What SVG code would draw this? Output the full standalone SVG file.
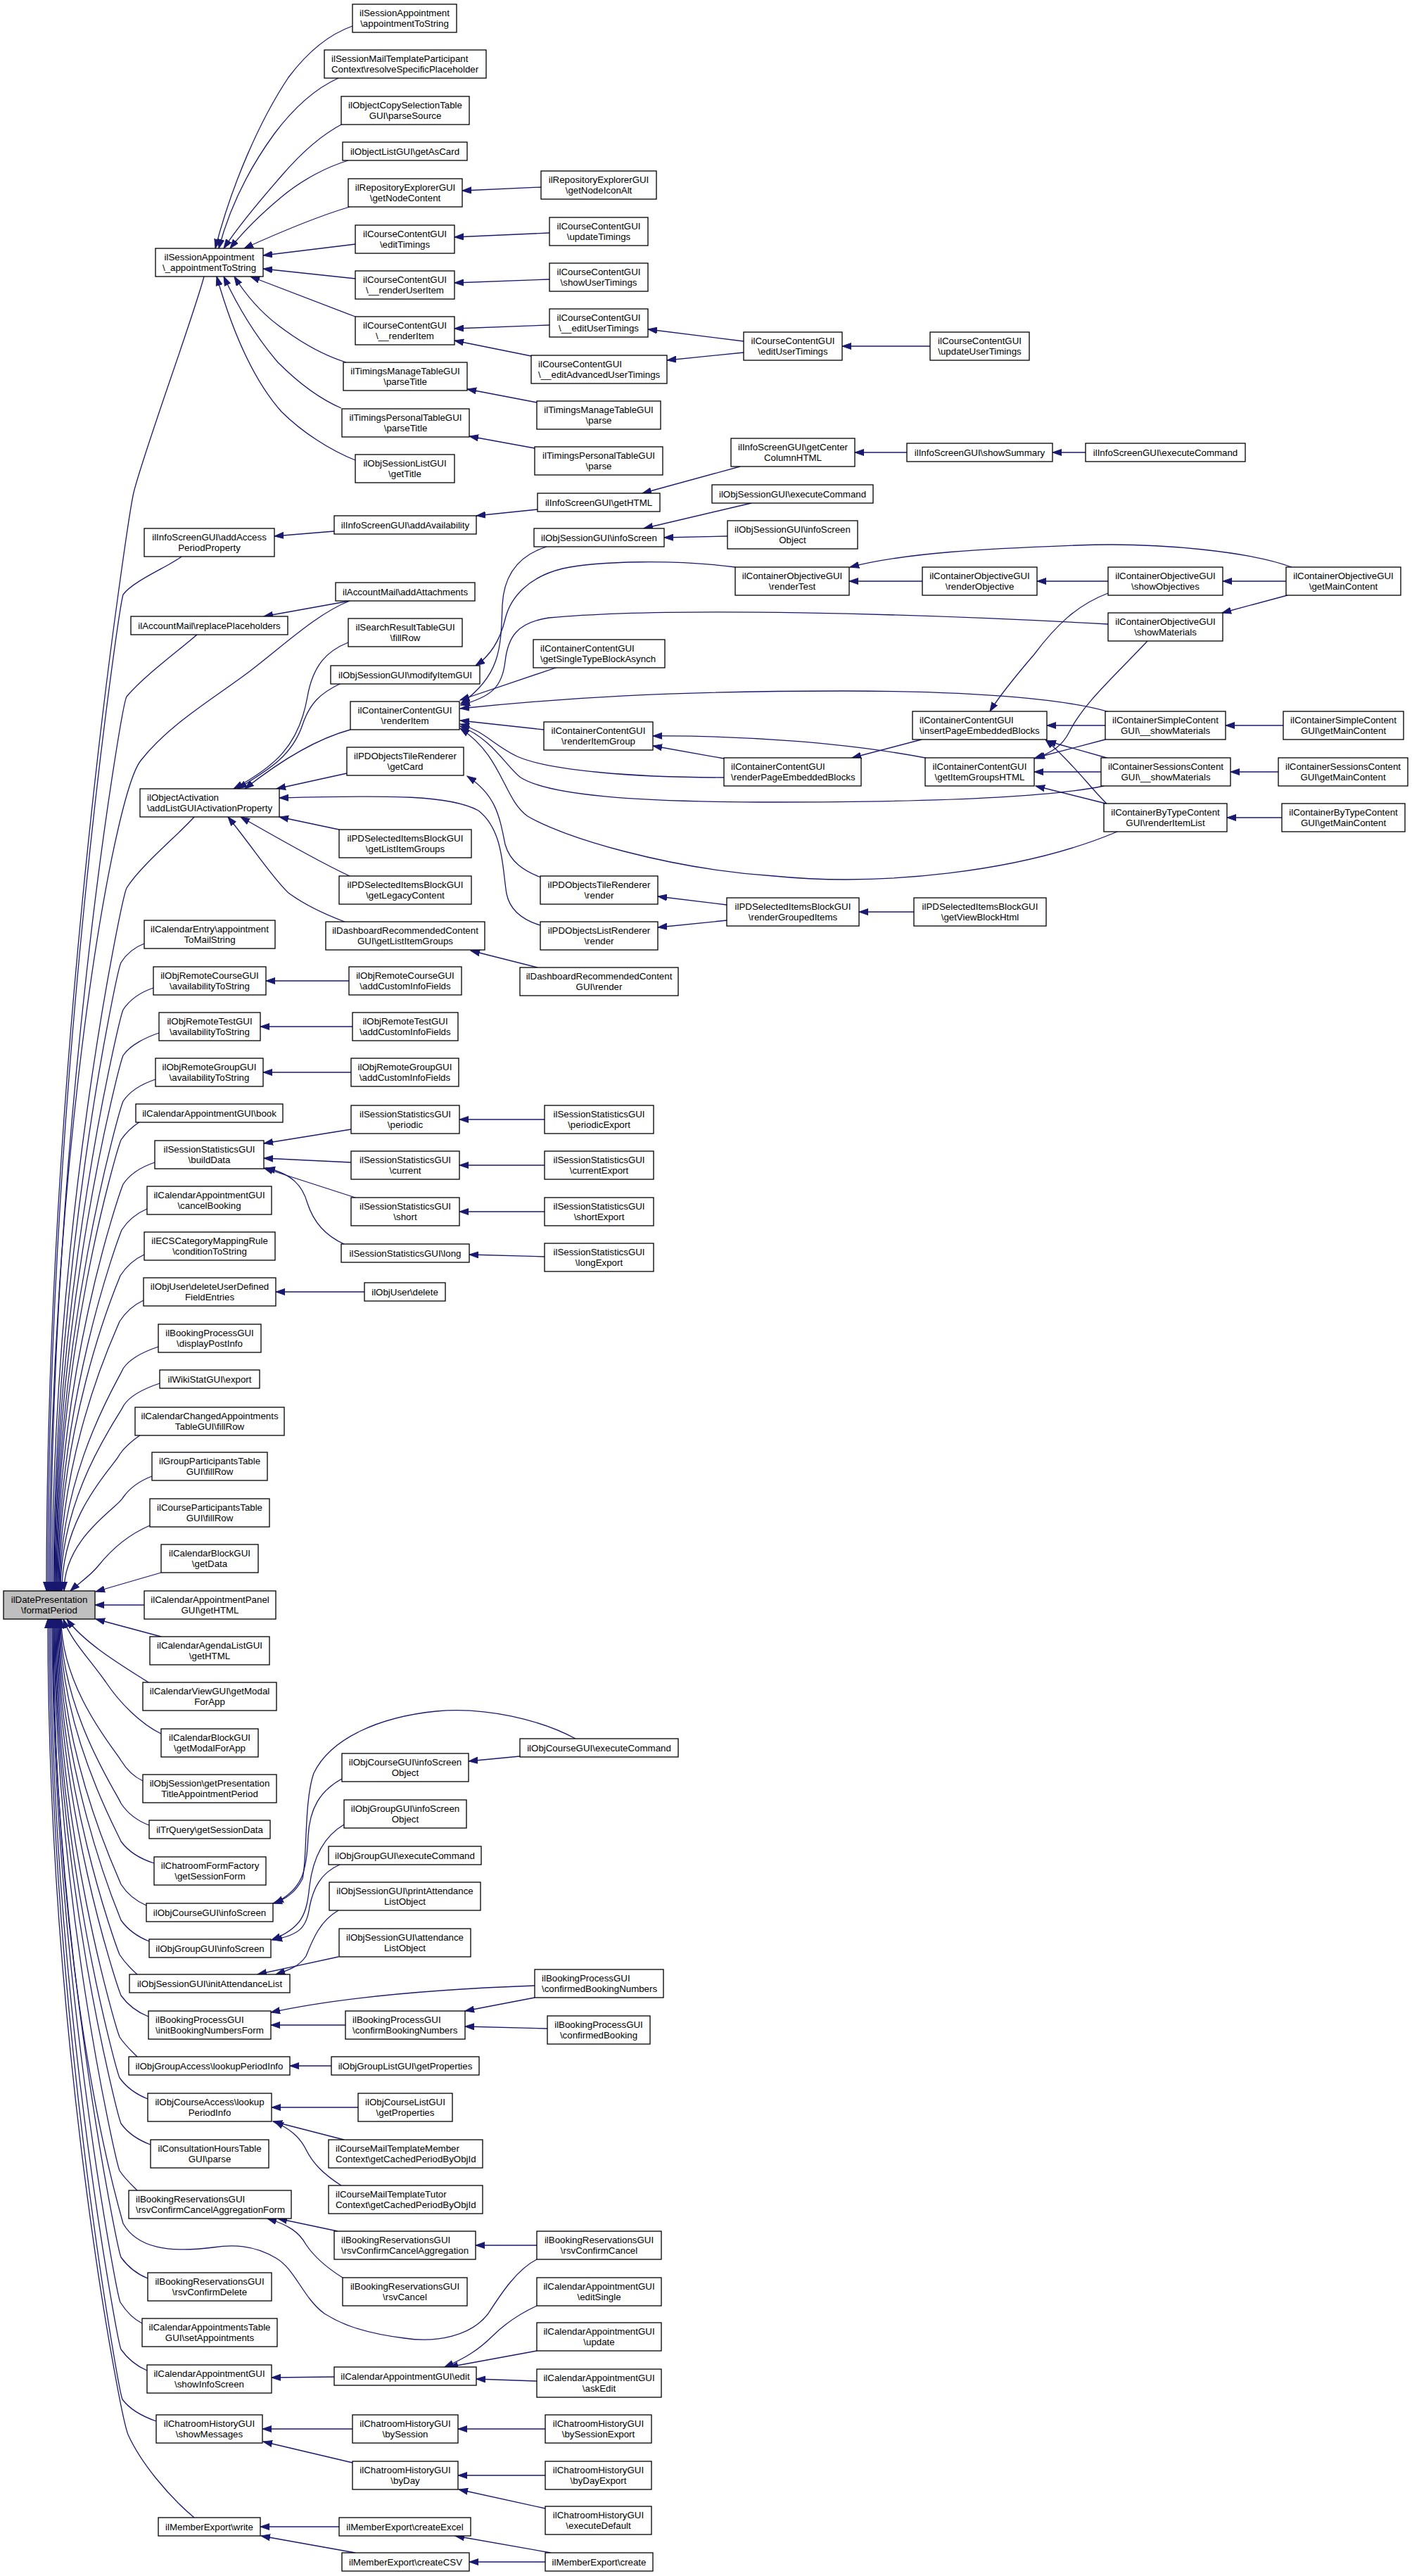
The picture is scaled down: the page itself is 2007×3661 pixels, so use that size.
<svg xmlns="http://www.w3.org/2000/svg" width="2007" height="3661" viewBox="0 0 2007 3661">
<style>
.node rect{fill:#fff;stroke:#000;stroke-width:1.3}
.root rect{fill:#bfbfbf}
text{font-family:"Liberation Sans",Arial,Helvetica,sans-serif;font-size:13.3px;fill:#000}
.c text{text-anchor:middle}
.l text{text-anchor:start}
#edges path{fill:none;stroke:#191970;stroke-width:1.3;marker-end:url(#arr)}
</style>
<defs>
<marker id="arr" markerUnits="userSpaceOnUse" markerWidth="14" markerHeight="10" viewBox="0 0 14 10" refX="13" refY="5" orient="auto">
<path d="M0,0.5 L13,5 L0,9.5 z" fill="#191970" stroke="#191970" stroke-width="1"/>
</marker>
</defs>
<rect x="0" y="0" width="2007" height="3661" fill="#fff"/>
<g id="edges">
<path d="M501,37 C470,48 440,70 410,110 C370,170 330,260 306,353"/>
<path d="M481,111 C450,125 420,150 390,190 C350,245 325,300 311,353"/>
<path d="M487,176 C460,190 430,215 400,250 C365,290 340,320 318,353"/>
<path d="M495,228 C465,237 430,255 400,280 C370,305 345,330 327,353"/>
<path d="M497,294 C460,305 420,320 347,353"/>
<path d="M505,347 L374,363"/>
<path d="M505,396 L374,382"/>
<path d="M505,450 C470,437 440,425 356,393"/>
<path d="M492,515 C460,505 425,485 395,462 C370,443 350,420 333,393"/>
<path d="M485,580 C450,565 420,540 395,515 C365,480 340,440 318,393"/>
<path d="M505,654 C470,640 430,615 400,585 C360,540 330,470 308,393"/>
<path d="M769,266 L657,271"/>
<path d="M781,331 L646,337"/>
<path d="M781,397 L646,402"/>
<path d="M781,462 L646,467"/>
<path d="M755,506 L646,484"/>
<path d="M763,572 L664,553"/>
<path d="M760,637 L667,620"/>
<path d="M1057,485 L921,468"/>
<path d="M1057,501 L948,512"/>
<path d="M1322,492 L1197,492"/>
<path d="M475,755 L390,762"/>
<path d="M764,724 L677,733"/>
<path d="M1052,663 L913,701"/>
<path d="M1289,643 L1215,643"/>
<path d="M1543,643 L1496,643"/>
<path d="M1068,715 L915,751"/>
<path d="M1034,762 L944,764"/>
<path d="M497,854 L375,876"/>
<path d="M495,913 C465,925 445,945 437,990 C425,1060 390,1090 332,1121"/>
<path d="M485,971 C455,985 440,1000 430,1030 C415,1075 380,1095 338,1121"/>
<path d="M498,1037 C450,1050 400,1080 348,1121"/>
<path d="M493,1099 L393,1121"/>
<path d="M482,1179 L397,1161"/>
<path d="M497,1245 C460,1228 410,1200 342,1161"/>
<path d="M490,1310 C450,1295 425,1280 410,1269 C385,1245 360,1205 324,1161"/>
<path d="M768,1315 C745,1308 725,1295 720,1270 C714,1235 716,1180 680,1152 C640,1130 560,1130 397,1134"/>
<path d="M777,777 C735,790 716,820 714,860 C712,920 712,960 655,1000"/>
<path d="M1045,806 C960,795 850,797 800,808 C750,820 725,850 718,880 C712,905 700,930 676,946"/>
<path d="M1575,887 C1300,872 950,862 780,878 C735,885 722,905 718,940 C714,975 700,990 655,1002"/>
<path d="M793,948 L654,995"/>
<path d="M1577,1012 C1520,995 1400,982 1200,982 C950,982 800,992 654,1007"/>
<path d="M773,1037 L654,1024"/>
<path d="M1029,1105 C900,1105 780,1095 735,1075 C700,1058 690,1040 654,1029"/>
<path d="M1569,1117 C1480,1135 1300,1140 1100,1140 C900,1140 780,1130 740,1105 C720,1090 700,1050 654,1032"/>
<path d="M1588,1182 C1450,1240 1250,1260 1100,1245 C950,1235 800,1190 750,1160 C715,1135 715,1075 654,1035"/>
<path d="M769,1247 C745,1238 725,1225 718,1200 C710,1160 705,1130 664,1103"/>
<path d="M1033,1286 L935,1274"/>
<path d="M1033,1308 L935,1318"/>
<path d="M1299,1296 L1221,1296"/>
<path d="M764,1375 L669,1351"/>
<path d="M1315,1077 C1200,1055 1050,1045 928,1046"/>
<path d="M1029,1078 L928,1060"/>
<path d="M1310,1051 L1211,1077"/>
<path d="M1575,843 C1530,860 1500,890 1470,930 C1440,965 1420,990 1407,1011"/>
<path d="M1571,1031 L1488,1031"/>
<path d="M1573,1077 L1488,1053"/>
<path d="M1573,1142 C1550,1120 1530,1090 1486,1051"/>
<path d="M1631,911 C1580,965 1540,1000 1520,1040 C1510,1060 1495,1070 1470,1078"/>
<path d="M1571,1051 L1472,1077"/>
<path d="M1565,1097 L1470,1097"/>
<path d="M1572,1142 L1472,1117"/>
<path d="M1311,826 L1207,826"/>
<path d="M1575,826 L1474,826"/>
<path d="M1828,826 L1738,826"/>
<path d="M1830,846 L1737,871"/>
<path d="M1836,806 C1780,785 1650,770 1530,775 C1400,780 1290,785 1208,806"/>
<path d="M1824,1031 L1742,1031"/>
<path d="M1817,1097 L1749,1097"/>
<path d="M1822,1162 L1744,1162"/>
<path d="M496,1394 L378,1394"/>
<path d="M501,1459 L370,1459"/>
<path d="M499,1524 L374,1524"/>
<path d="M499,1605 L375,1625"/>
<path d="M499,1652 L375,1646"/>
<path d="M505,1702 L375,1660"/>
<path d="M489,1768 C460,1755 445,1735 437,1710 C430,1685 415,1668 378,1660"/>
<path d="M774,1591 L653,1591"/>
<path d="M774,1656 L653,1656"/>
<path d="M774,1722 L653,1722"/>
<path d="M774,1786 L667,1783"/>
<path d="M518,1836 L392,1836"/>
<path d="M486,2528 C455,2545 440,2570 438,2610 C436,2660 430,2685 390,2705"/>
<path d="M818,2471 C770,2445 690,2425 620,2432 C540,2440 470,2470 446,2520 C432,2560 437,2640 430,2670 C420,2690 405,2700 388,2705"/>
<path d="M739,2496 L666,2503"/>
<path d="M489,2593 C460,2610 445,2640 440,2680 C436,2720 430,2740 386,2757"/>
<path d="M483,2650 C455,2662 445,2685 440,2710 C436,2740 425,2750 388,2757"/>
<path d="M481,2715 C455,2730 445,2755 435,2780 C425,2795 410,2800 392,2806"/>
<path d="M481,2781 L366,2806"/>
<path d="M760,2822 C650,2826 500,2835 385,2860"/>
<path d="M491,2878 L385,2878"/>
<path d="M760,2839 L661,2858"/>
<path d="M778,2883 L661,2880"/>
<path d="M471,2936 L412,2936"/>
<path d="M509,2995 L386,2995"/>
<path d="M489,3041 L388,3015"/>
<path d="M485,3106 C460,3090 445,3075 435,3055 C425,3035 410,3025 390,3015"/>
<path d="M480,3171 L395,3153"/>
<path d="M487,3237 C460,3220 445,3205 435,3190 C425,3172 410,3162 380,3153"/>
<path d="M763,3191 L676,3191"/>
<path d="M475,3378 L386,3379"/>
<path d="M763,3277 C735,3290 715,3305 700,3320 C680,3340 660,3352 632,3364"/>
<path d="M763,3341 L638,3364"/>
<path d="M763,3384 L677,3381"/>
<path d="M501,3452 L373,3452"/>
<path d="M501,3500 L374,3470"/>
<path d="M775,3452 L651,3452"/>
<path d="M775,3518 L651,3518"/>
<path d="M775,3565 L652,3538"/>
<path d="M482,3591 L370,3591"/>
<path d="M505,3628 L371,3604"/>
<path d="M783,3628 L647,3604"/>
<path d="M775,3641 L667,3641"/>
<path d="M290,393 C275,450 205,640 190,700 C183,730 66,1480 66,2261"/>
<path d="M258,791 C240,805 190,825 175,845 C168,870 68,1550 68,2261"/>
<path d="M497,854 C450,872 400,920 351,957 C300,995 240,1030 200,1081 C160,1132 70,1650 70,2261"/>
<path d="M281,901 C260,920 205,960 180,990 C172,1005 72,1600 72,2261"/>
<path d="M276,1161 C255,1185 200,1230 180,1262 C172,1280 74,1750 74,2261"/>
<path d="M205,1341 C192,1346 180,1355 172,1368 C166,1380 76,1800 76,2261"/>
<path d="M218,1404 C200,1410 185,1420 175,1435 C169,1450 77,1830 77,2261"/>
<path d="M226,1468 C208,1474 185,1485 175,1500 C169,1515 78,1860 78,2261"/>
<path d="M221,1534 C203,1540 185,1550 175,1565 C169,1580 79,1890 79,2261"/>
<path d="M199,1594 C190,1600 180,1608 172,1620 C166,1635 80,1920 80,2261"/>
<path d="M220,1652 C202,1658 185,1668 175,1683 C169,1698 81,1950 81,2261"/>
<path d="M209,1718 C195,1724 182,1734 173,1748 C167,1763 82,1990 82,2261"/>
<path d="M205,1783 C192,1789 180,1799 171,1813 C165,1828 83,2020 83,2261"/>
<path d="M204,1848 C191,1854 179,1864 170,1878 C164,1893 84,2060 84,2261"/>
<path d="M225,1914 C207,1920 185,1930 175,1945 C169,1960 85,2090 85,2261"/>
<path d="M227,1966 C209,1972 186,1982 176,1997 C170,2012 86,2120 86,2261"/>
<path d="M200,2039 C190,2046 178,2055 170,2067 C164,2082 88,2150 88,2261"/>
<path d="M216,2098 C200,2104 185,2114 175,2128 C168,2143 91,2185 91,2261"/>
<path d="M213,2168 C185,2180 160,2200 140,2225 C128,2240 112,2250 100,2261"/>
<path d="M229,2235 L136,2262"/>
<path d="M205,2281 L135,2281"/>
<path d="M229,2326 L136,2301"/>
<path d="M211,2391 C170,2365 120,2335 95,2301"/>
<path d="M229,2464 C200,2450 170,2420 150,2390 C125,2355 100,2330 90,2301"/>
<path d="M203,2531 C190,2525 180,2515 172,2502 C166,2490 87,2401 87,2301"/>
<path d="M212,2594 C196,2588 182,2578 172,2563 C166,2548 86,2432 86,2301"/>
<path d="M219,2648 C200,2642 183,2632 172,2617 C166,2602 85,2460 85,2301"/>
<path d="M208,2708 C194,2702 181,2692 172,2678 C166,2663 84,2490 84,2301"/>
<path d="M212,2759 C197,2753 182,2743 172,2729 C166,2714 83,2515 83,2301"/>
<path d="M195,2806 C186,2798 178,2790 170,2778 C164,2763 82,2540 82,2301"/>
<path d="M211,2866 C196,2860 182,2850 172,2836 C166,2821 81,2570 81,2301"/>
<path d="M195,2923 C187,2915 178,2907 170,2895 C164,2880 80,2600 80,2301"/>
<path d="M210,2983 C195,2977 180,2967 170,2953 C164,2938 79,2630 79,2301"/>
<path d="M214,3048 C198,3042 182,3032 172,3018 C166,3003 78,2660 78,2301"/>
<path d="M195,3113 C187,3105 178,3097 170,3085 C164,3070 77,2690 77,2301"/>
<path d="M763,3211 C735,3225 712,3260 694,3288 C670,3320 620,3330 575,3323 C510,3315 480,3300 461,3288 C430,3265 420,3225 392,3209 C360,3190 330,3190 303,3194 C240,3202 195,3195 175,3160 C130,3000 76,2700 76,2301"/>
<path d="M210,3238 C195,3232 182,3222 172,3208 C166,3193 75,2750 75,2301"/>
<path d="M202,3302 C190,3296 180,3286 171,3272 C165,3257 74,2780 74,2301"/>
<path d="M209,3369 C195,3363 182,3353 172,3339 C166,3324 72,2820 72,2301"/>
<path d="M222,3441 C205,3435 185,3425 174,3410 C168,3395 70,2850 70,2301"/>
<path d="M276,3578 C240,3548 200,3500 182,3460 C170,3430 68,2900 68,2301"/>
</g>
<g id="n-root" class="node root c"><rect x="5" y="2261" width="130" height="40"/><text x="70" y="2278.4">ilDatePresentation</text><text x="70" y="2293.1">\formatPeriod</text></g>
<g id="a1" class="node c"><rect x="221" y="353" width="153" height="40"/><text x="297.5" y="370.4">ilSessionAppointment</text><text x="297.5" y="385.1">\_appointmentToString</text></g>
<g id="a2" class="node c"><rect x="205" y="751" width="185" height="40"/><text x="297.5" y="768.4">ilInfoScreenGUI\addAccess</text><text x="297.5" y="783.1">PeriodProperty</text></g>
<g id="a3" class="node c"><rect x="186" y="876" width="223" height="26"/><text x="297.5" y="893.8">ilAccountMail\replacePlaceholders</text></g>
<g id="a4" class="node l"><rect x="199" y="1121" width="198" height="40"/><text x="209" y="1138.4">ilObjectActivation</text><text x="209" y="1153.1">\addListGUIActivationProperty</text></g>
<g id="a5" class="node c"><rect x="205" y="1308" width="186" height="40"/><text x="298" y="1325.4">ilCalendarEntry\appointment</text><text x="298" y="1340.1">ToMailString</text></g>
<g id="a6" class="node c"><rect x="218" y="1374" width="160" height="40"/><text x="298" y="1391.4">ilObjRemoteCourseGUI</text><text x="298" y="1406.1">\availabilityToString</text></g>
<g id="a7" class="node c"><rect x="226" y="1439" width="144" height="40"/><text x="298" y="1456.4">ilObjRemoteTestGUI</text><text x="298" y="1471.1">\availabilityToString</text></g>
<g id="a8" class="node c"><rect x="221" y="1504" width="153" height="40"/><text x="297.5" y="1521.4">ilObjRemoteGroupGUI</text><text x="297.5" y="1536.1">\availabilityToString</text></g>
<g id="a9" class="node c"><rect x="193" y="1569" width="209" height="26"/><text x="297.5" y="1586.8">ilCalendarAppointmentGUI\book</text></g>
<g id="a10" class="node c"><rect x="220" y="1621" width="155" height="40"/><text x="297.5" y="1638.4">ilSessionStatisticsGUI</text><text x="297.5" y="1653.1">\buildData</text></g>
<g id="a11" class="node c"><rect x="209" y="1686" width="177" height="40"/><text x="297.5" y="1703.4">ilCalendarAppointmentGUI</text><text x="297.5" y="1718.1">\cancelBooking</text></g>
<g id="a12" class="node c"><rect x="205" y="1751" width="186" height="40"/><text x="298" y="1768.4">ilECSCategoryMappingRule</text><text x="298" y="1783.1">\conditionToString</text></g>
<g id="a13" class="node c"><rect x="204" y="1816" width="188" height="40"/><text x="298" y="1833.4">ilObjUser\deleteUserDefined</text><text x="298" y="1848.1">FieldEntries</text></g>
<g id="a14" class="node c"><rect x="225" y="1882" width="146" height="40"/><text x="298" y="1899.4">ilBookingProcessGUI</text><text x="298" y="1914.1">\displayPostInfo</text></g>
<g id="a15" class="node c"><rect x="227" y="1947" width="142" height="26"/><text x="298" y="1964.8">ilWikiStatGUI\export</text></g>
<g id="a16" class="node c"><rect x="192" y="2000" width="212" height="40"/><text x="298" y="2017.4">ilCalendarChangedAppointments</text><text x="298" y="2032.1">TableGUI\fillRow</text></g>
<g id="a17" class="node c"><rect x="216" y="2064" width="164" height="40"/><text x="298" y="2081.4">ilGroupParticipantsTable</text><text x="298" y="2096.1">GUI\fillRow</text></g>
<g id="a18" class="node c"><rect x="213" y="2130" width="170" height="40"/><text x="298" y="2147.4">ilCourseParticipantsTable</text><text x="298" y="2162.1">GUI\fillRow</text></g>
<g id="a19" class="node c"><rect x="229" y="2195" width="138" height="40"/><text x="298" y="2212.4">ilCalendarBlockGUI</text><text x="298" y="2227.1">\getData</text></g>
<g id="a20" class="node c"><rect x="205" y="2261" width="187" height="40"/><text x="298.5" y="2278.4">ilCalendarAppointmentPanel</text><text x="298.5" y="2293.1">GUI\getHTML</text></g>
<g id="a21" class="node c"><rect x="213" y="2326" width="170" height="40"/><text x="298" y="2343.4">ilCalendarAgendaListGUI</text><text x="298" y="2358.1">\getHTML</text></g>
<g id="a22" class="node c"><rect x="203" y="2391" width="190" height="40"/><text x="298" y="2408.4">ilCalendarViewGUI\getModal</text><text x="298" y="2423.1">ForApp</text></g>
<g id="a23" class="node c"><rect x="229" y="2457" width="138" height="40"/><text x="298" y="2474.4">ilCalendarBlockGUI</text><text x="298" y="2489.1">\getModalForApp</text></g>
<g id="a24" class="node c"><rect x="203" y="2522" width="190" height="40"/><text x="298" y="2539.4">ilObjSession\getPresentation</text><text x="298" y="2554.1">TitleAppointmentPeriod</text></g>
<g id="a25" class="node c"><rect x="212" y="2587" width="172" height="26"/><text x="298" y="2604.8">ilTrQuery\getSessionData</text></g>
<g id="a26" class="node c"><rect x="219" y="2639" width="159" height="40"/><text x="298.5" y="2656.4">ilChatroomFormFactory</text><text x="298.5" y="2671.1">\getSessionForm</text></g>
<g id="a27" class="node c"><rect x="208" y="2705" width="180" height="26"/><text x="298" y="2722.8">ilObjCourseGUI\infoScreen</text></g>
<g id="a28" class="node c"><rect x="212" y="2756" width="173" height="26"/><text x="298.5" y="2773.8">ilObjGroupGUI\infoScreen</text></g>
<g id="a29" class="node c"><rect x="184" y="2806" width="228" height="26"/><text x="298" y="2823.8">ilObjSessionGUI\initAttendanceList</text></g>
<g id="a30" class="node l"><rect x="211" y="2858" width="174" height="40"/><text x="221" y="2875.4">ilBookingProcessGUI</text><text x="221" y="2890.1">\initBookingNumbersForm</text></g>
<g id="a31" class="node c"><rect x="183" y="2923" width="229" height="26"/><text x="297.5" y="2940.8">ilObjGroupAccess\lookupPeriodInfo</text></g>
<g id="a32" class="node c"><rect x="210" y="2975" width="176" height="40"/><text x="298" y="2992.4">ilObjCourseAccess\lookup</text><text x="298" y="3007.1">PeriodInfo</text></g>
<g id="a33" class="node c"><rect x="214" y="3041" width="168" height="40"/><text x="298" y="3058.4">ilConsultationHoursTable</text><text x="298" y="3073.1">GUI\parse</text></g>
<g id="a34" class="node l"><rect x="183" y="3113" width="231" height="40"/><text x="193" y="3130.4">ilBookingReservationsGUI</text><text x="193" y="3145.1">\rsvConfirmCancelAggregationForm</text></g>
<g id="a35" class="node c"><rect x="210" y="3230" width="176" height="40"/><text x="298" y="3247.4">ilBookingReservationsGUI</text><text x="298" y="3262.1">\rsvConfirmDelete</text></g>
<g id="a36" class="node c"><rect x="202" y="3295" width="192" height="40"/><text x="298" y="3312.4">ilCalendarAppointmentsTable</text><text x="298" y="3327.1">GUI\setAppointments</text></g>
<g id="a37" class="node c"><rect x="209" y="3361" width="177" height="40"/><text x="297.5" y="3378.4">ilCalendarAppointmentGUI</text><text x="297.5" y="3393.1">\showInfoScreen</text></g>
<g id="a38" class="node c"><rect x="222" y="3432" width="151" height="40"/><text x="297.5" y="3449.4">ilChatroomHistoryGUI</text><text x="297.5" y="3464.1">\showMessages</text></g>
<g id="a39" class="node c"><rect x="225" y="3578" width="145" height="26"/><text x="297.5" y="3595.8">ilMemberExport\write</text></g>
<g id="b1" class="node c"><rect x="501" y="6" width="148" height="40"/><text x="575" y="23.4">ilSessionAppointment</text><text x="575" y="38.1">\appointmentToString</text></g>
<g id="b2" class="node l"><rect x="461" y="71" width="230" height="40"/><text x="471" y="88.4">ilSessionMailTemplateParticipant</text><text x="471" y="103.1">Context\resolveSpecificPlaceholder</text></g>
<g id="b3" class="node c"><rect x="485" y="137" width="182" height="40"/><text x="576" y="154.4">ilObjectCopySelectionTable</text><text x="576" y="169.1">GUI\parseSource</text></g>
<g id="b4" class="node c"><rect x="487" y="202" width="177" height="26"/><text x="575.5" y="219.8">ilObjectListGUI\getAsCard</text></g>
<g id="b5" class="node c"><rect x="495" y="254" width="162" height="40"/><text x="576" y="271.4">ilRepositoryExplorerGUI</text><text x="576" y="286.1">\getNodeContent</text></g>
<g id="b6" class="node c"><rect x="505" y="320" width="141" height="40"/><text x="575.5" y="337.4">ilCourseContentGUI</text><text x="575.5" y="352.1">\editTimings</text></g>
<g id="b7" class="node c"><rect x="505" y="385" width="141" height="40"/><text x="575.5" y="402.4">ilCourseContentGUI</text><text x="575.5" y="417.1">\__renderUserItem</text></g>
<g id="b8" class="node c"><rect x="505" y="450" width="141" height="40"/><text x="575.5" y="467.4">ilCourseContentGUI</text><text x="575.5" y="482.1">\__renderItem</text></g>
<g id="b9" class="node c"><rect x="488" y="515" width="176" height="40"/><text x="576" y="532.4">ilTimingsManageTableGUI</text><text x="576" y="547.1">\parseTitle</text></g>
<g id="b10" class="node c"><rect x="486" y="581" width="181" height="40"/><text x="576.5" y="598.4">ilTimingsPersonalTableGUI</text><text x="576.5" y="613.1">\parseTitle</text></g>
<g id="b11" class="node c"><rect x="505" y="646" width="141" height="40"/><text x="575.5" y="663.4">ilObjSessionListGUI</text><text x="575.5" y="678.1">\getTitle</text></g>
<g id="b12" class="node c"><rect x="475" y="733" width="202" height="26"/><text x="576" y="750.8">ilInfoScreenGUI\addAvailability</text></g>
<g id="b13" class="node c"><rect x="477" y="828" width="198" height="26"/><text x="576" y="845.8">ilAccountMail\addAttachments</text></g>
<g id="b14" class="node c"><rect x="495" y="879" width="162" height="40"/><text x="576" y="896.4">ilSearchResultTableGUI</text><text x="576" y="911.1">\fillRow</text></g>
<g id="b15" class="node c"><rect x="470" y="946" width="212" height="26"/><text x="576" y="963.8">ilObjSessionGUI\modifyItemGUI</text></g>
<g id="b16" class="node c"><rect x="498" y="997" width="155" height="40"/><text x="575.5" y="1014.4">ilContainerContentGUI</text><text x="575.5" y="1029.1">\renderItem</text></g>
<g id="b17" class="node c"><rect x="493" y="1062" width="166" height="40"/><text x="576" y="1079.4">ilPDObjectsTileRenderer</text><text x="576" y="1094.1">\getCard</text></g>
<g id="b18" class="node c"><rect x="482" y="1179" width="188" height="40"/><text x="576" y="1196.4">ilPDSelectedItemsBlockGUI</text><text x="576" y="1211.1">\getListItemGroups</text></g>
<g id="b19" class="node c"><rect x="482" y="1245" width="188" height="40"/><text x="576" y="1262.4">ilPDSelectedItemsBlockGUI</text><text x="576" y="1277.1">\getLegacyContent</text></g>
<g id="b20" class="node c"><rect x="463" y="1310" width="226" height="40"/><text x="576" y="1327.4">ilDashboardRecommendedContent</text><text x="576" y="1342.1">GUI\getListItemGroups</text></g>
<g id="b21" class="node c"><rect x="496" y="1374" width="160" height="40"/><text x="576" y="1391.4">ilObjRemoteCourseGUI</text><text x="576" y="1406.1">\addCustomInfoFields</text></g>
<g id="b22" class="node c"><rect x="501" y="1439" width="150" height="40"/><text x="576" y="1456.4">ilObjRemoteTestGUI</text><text x="576" y="1471.1">\addCustomInfoFields</text></g>
<g id="b23" class="node c"><rect x="499" y="1504" width="153" height="40"/><text x="575.5" y="1521.4">ilObjRemoteGroupGUI</text><text x="575.5" y="1536.1">\addCustomInfoFields</text></g>
<g id="b24" class="node c"><rect x="499" y="1571" width="154" height="40"/><text x="576" y="1588.4">ilSessionStatisticsGUI</text><text x="576" y="1603.1">\periodic</text></g>
<g id="b25" class="node c"><rect x="499" y="1636" width="154" height="40"/><text x="576" y="1653.4">ilSessionStatisticsGUI</text><text x="576" y="1668.1">\current</text></g>
<g id="b26" class="node c"><rect x="499" y="1702" width="154" height="40"/><text x="576" y="1719.4">ilSessionStatisticsGUI</text><text x="576" y="1734.1">\short</text></g>
<g id="b27" class="node c"><rect x="485" y="1768" width="182" height="26"/><text x="576" y="1785.8">ilSessionStatisticsGUI\long</text></g>
<g id="b28" class="node c"><rect x="518" y="1823" width="115" height="26"/><text x="575.5" y="1840.8">ilObjUser\delete</text></g>
<g id="b29" class="node c"><rect x="486" y="2492" width="180" height="40"/><text x="576" y="2509.4">ilObjCourseGUI\infoScreen</text><text x="576" y="2524.1">Object</text></g>
<g id="b30" class="node c"><rect x="489" y="2558" width="174" height="40"/><text x="576" y="2575.4">ilObjGroupGUI\infoScreen</text><text x="576" y="2590.1">Object</text></g>
<g id="b31" class="node c"><rect x="467" y="2624" width="217" height="26"/><text x="575.5" y="2641.8">ilObjGroupGUI\executeCommand</text></g>
<g id="b32" class="node c"><rect x="468" y="2675" width="215" height="40"/><text x="575.5" y="2692.4">ilObjSessionGUI\printAttendance</text><text x="575.5" y="2707.1">ListObject</text></g>
<g id="b33" class="node c"><rect x="482" y="2741" width="187" height="40"/><text x="575.5" y="2758.4">ilObjSessionGUI\attendance</text><text x="575.5" y="2773.1">ListObject</text></g>
<g id="b34" class="node l"><rect x="491" y="2858" width="170" height="40"/><text x="501" y="2875.4">ilBookingProcessGUI</text><text x="501" y="2890.1">\confirmBookingNumbers</text></g>
<g id="b35" class="node c"><rect x="471" y="2923" width="210" height="26"/><text x="576" y="2940.8">ilObjGroupListGUI\getProperties</text></g>
<g id="b36" class="node c"><rect x="509" y="2975" width="134" height="40"/><text x="576" y="2992.4">ilObjCourseListGUI</text><text x="576" y="3007.1">\getProperties</text></g>
<g id="b37" class="node l"><rect x="467" y="3041" width="219" height="40"/><text x="477" y="3058.4">ilCourseMailTemplateMember</text><text x="477" y="3073.1">Context\getCachedPeriodByObjId</text></g>
<g id="b38" class="node l"><rect x="467" y="3106" width="219" height="40"/><text x="477" y="3123.4">ilCourseMailTemplateTutor</text><text x="477" y="3138.1">Context\getCachedPeriodByObjId</text></g>
<g id="b39" class="node l"><rect x="475" y="3171" width="201" height="40"/><text x="485" y="3188.4">ilBookingReservationsGUI</text><text x="485" y="3203.1">\rsvConfirmCancelAggregation</text></g>
<g id="b40" class="node c"><rect x="487" y="3237" width="177" height="40"/><text x="575.5" y="3254.4">ilBookingReservationsGUI</text><text x="575.5" y="3269.1">\rsvCancel</text></g>
<g id="b41" class="node c"><rect x="475" y="3364" width="202" height="26"/><text x="576" y="3381.8">ilCalendarAppointmentGUI\edit</text></g>
<g id="b42" class="node c"><rect x="501" y="3432" width="150" height="40"/><text x="576" y="3449.4">ilChatroomHistoryGUI</text><text x="576" y="3464.1">\bySession</text></g>
<g id="b43" class="node c"><rect x="501" y="3498" width="150" height="40"/><text x="576" y="3515.4">ilChatroomHistoryGUI</text><text x="576" y="3530.1">\byDay</text></g>
<g id="b44" class="node c"><rect x="482" y="3578" width="187" height="26"/><text x="575.5" y="3595.8">ilMemberExport\createExcel</text></g>
<g id="b45" class="node c"><rect x="486" y="3628" width="181" height="26"/><text x="576.5" y="3645.8">ilMemberExport\createCSV</text></g>
<g id="c1" class="node c"><rect x="769" y="243" width="164" height="40"/><text x="851" y="260.4">ilRepositoryExplorerGUI</text><text x="851" y="275.1">\getNodeIconAlt</text></g>
<g id="c2" class="node c"><rect x="781" y="309" width="140" height="40"/><text x="851" y="326.4">ilCourseContentGUI</text><text x="851" y="341.1">\updateTimings</text></g>
<g id="c3" class="node c"><rect x="781" y="374" width="140" height="40"/><text x="851" y="391.4">ilCourseContentGUI</text><text x="851" y="406.1">\showUserTimings</text></g>
<g id="c4" class="node c"><rect x="781" y="439" width="140" height="40"/><text x="851" y="456.4">ilCourseContentGUI</text><text x="851" y="471.1">\__editUserTimings</text></g>
<g id="c5" class="node l"><rect x="755" y="505" width="193" height="40"/><text x="765" y="522.4">ilCourseContentGUI</text><text x="765" y="537.1">\__editAdvancedUserTimings</text></g>
<g id="c6" class="node c"><rect x="763" y="570" width="176" height="40"/><text x="851" y="587.4">ilTimingsManageTableGUI</text><text x="851" y="602.1">\parse</text></g>
<g id="c7" class="node c"><rect x="760" y="635" width="182" height="40"/><text x="851" y="652.4">ilTimingsPersonalTableGUI</text><text x="851" y="667.1">\parse</text></g>
<g id="c8" class="node c"><rect x="764" y="701" width="174" height="26"/><text x="851" y="718.8">ilInfoScreenGUI\getHTML</text></g>
<g id="c9" class="node c"><rect x="759" y="751" width="185" height="26"/><text x="851.5" y="768.8">ilObjSessionGUI\infoScreen</text></g>
<g id="c10" class="node l"><rect x="758" y="909" width="187" height="40"/><text x="768" y="926.4">ilContainerContentGUI</text><text x="768" y="941.1">\getSingleTypeBlockAsynch</text></g>
<g id="c11" class="node c"><rect x="773" y="1026" width="155" height="40"/><text x="850.5" y="1043.4">ilContainerContentGUI</text><text x="850.5" y="1058.1">\renderItemGroup</text></g>
<g id="c12" class="node c"><rect x="768" y="1245" width="167" height="40"/><text x="851.5" y="1262.4">ilPDObjectsTileRenderer</text><text x="851.5" y="1277.1">\render</text></g>
<g id="c13" class="node c"><rect x="768" y="1310" width="167" height="40"/><text x="851.5" y="1327.4">ilPDObjectsListRenderer</text><text x="851.5" y="1342.1">\render</text></g>
<g id="c14" class="node c"><rect x="739" y="1375" width="225" height="40"/><text x="851.5" y="1392.4">ilDashboardRecommendedContent</text><text x="851.5" y="1407.1">GUI\render</text></g>
<g id="c15" class="node c"><rect x="774" y="1571" width="155" height="40"/><text x="851.5" y="1588.4">ilSessionStatisticsGUI</text><text x="851.5" y="1603.1">\periodicExport</text></g>
<g id="c16" class="node c"><rect x="774" y="1636" width="155" height="40"/><text x="851.5" y="1653.4">ilSessionStatisticsGUI</text><text x="851.5" y="1668.1">\currentExport</text></g>
<g id="c17" class="node c"><rect x="774" y="1702" width="155" height="40"/><text x="851.5" y="1719.4">ilSessionStatisticsGUI</text><text x="851.5" y="1734.1">\shortExport</text></g>
<g id="c18" class="node c"><rect x="774" y="1767" width="155" height="40"/><text x="851.5" y="1784.4">ilSessionStatisticsGUI</text><text x="851.5" y="1799.1">\longExport</text></g>
<g id="c19" class="node c"><rect x="739" y="2471" width="225" height="26"/><text x="851.5" y="2488.8">ilObjCourseGUI\executeCommand</text></g>
<g id="c20" class="node l"><rect x="760" y="2799" width="183" height="40"/><text x="770" y="2816.4">ilBookingProcessGUI</text><text x="770" y="2831.1">\confirmedBookingNumbers</text></g>
<g id="c21" class="node c"><rect x="778" y="2865" width="146" height="40"/><text x="851" y="2882.4">ilBookingProcessGUI</text><text x="851" y="2897.1">\confirmedBooking</text></g>
<g id="c22" class="node c"><rect x="763" y="3171" width="177" height="40"/><text x="851.5" y="3188.4">ilBookingReservationsGUI</text><text x="851.5" y="3203.1">\rsvConfirmCancel</text></g>
<g id="c23" class="node c"><rect x="763" y="3237" width="177" height="40"/><text x="851.5" y="3254.4">ilCalendarAppointmentGUI</text><text x="851.5" y="3269.1">\editSingle</text></g>
<g id="c24" class="node c"><rect x="763" y="3301" width="177" height="40"/><text x="851.5" y="3318.4">ilCalendarAppointmentGUI</text><text x="851.5" y="3333.1">\update</text></g>
<g id="c25" class="node c"><rect x="763" y="3367" width="177" height="40"/><text x="851.5" y="3384.4">ilCalendarAppointmentGUI</text><text x="851.5" y="3399.1">\askEdit</text></g>
<g id="c26" class="node c"><rect x="775" y="3432" width="151" height="40"/><text x="850.5" y="3449.4">ilChatroomHistoryGUI</text><text x="850.5" y="3464.1">\bySessionExport</text></g>
<g id="c27" class="node c"><rect x="775" y="3498" width="151" height="40"/><text x="850.5" y="3515.4">ilChatroomHistoryGUI</text><text x="850.5" y="3530.1">\byDayExport</text></g>
<g id="c28" class="node c"><rect x="775" y="3562" width="151" height="40"/><text x="850.5" y="3579.4">ilChatroomHistoryGUI</text><text x="850.5" y="3594.1">\executeDefault</text></g>
<g id="c29" class="node c"><rect x="775" y="3628" width="153" height="26"/><text x="851.5" y="3645.8">ilMemberExport\create</text></g>
<g id="d1" class="node c"><rect x="1057" y="472" width="140" height="40"/><text x="1127" y="489.4">ilCourseContentGUI</text><text x="1127" y="504.1">\editUserTimings</text></g>
<g id="d2" class="node c"><rect x="1039" y="623" width="176" height="40"/><text x="1127" y="640.4">ilInfoScreenGUI\getCenter</text><text x="1127" y="655.1">ColumnHTML</text></g>
<g id="d3" class="node c"><rect x="1012" y="689" width="229" height="26"/><text x="1126.5" y="706.8">ilObjSessionGUI\executeCommand</text></g>
<g id="d4" class="node c"><rect x="1034" y="740" width="185" height="40"/><text x="1126.5" y="757.4">ilObjSessionGUI\infoScreen</text><text x="1126.5" y="772.1">Object</text></g>
<g id="d5" class="node c"><rect x="1045" y="806" width="162" height="40"/><text x="1126" y="823.4">ilContainerObjectiveGUI</text><text x="1126" y="838.1">\renderTest</text></g>
<g id="d6" class="node l"><rect x="1029" y="1077" width="195" height="40"/><text x="1039" y="1094.4">ilContainerContentGUI</text><text x="1039" y="1109.1">\renderPageEmbeddedBlocks</text></g>
<g id="d7" class="node c"><rect x="1033" y="1276" width="188" height="40"/><text x="1127" y="1293.4">ilPDSelectedItemsBlockGUI</text><text x="1127" y="1308.1">\renderGroupedItems</text></g>
<g id="e1" class="node c"><rect x="1322" y="472" width="141" height="40"/><text x="1392.5" y="489.4">ilCourseContentGUI</text><text x="1392.5" y="504.1">\updateUserTimings</text></g>
<g id="e2" class="node c"><rect x="1289" y="630" width="207" height="26"/><text x="1392.5" y="647.8">ilInfoScreenGUI\showSummary</text></g>
<g id="e3" class="node c"><rect x="1311" y="806" width="163" height="40"/><text x="1392.5" y="823.4">ilContainerObjectiveGUI</text><text x="1392.5" y="838.1">\renderObjective</text></g>
<g id="e4" class="node l"><rect x="1297" y="1011" width="191" height="40"/><text x="1307" y="1028.4">ilContainerContentGUI</text><text x="1307" y="1043.1">\insertPageEmbeddedBlocks</text></g>
<g id="e5" class="node c"><rect x="1315" y="1077" width="155" height="40"/><text x="1392.5" y="1094.4">ilContainerContentGUI</text><text x="1392.5" y="1109.1">\getItemGroupsHTML</text></g>
<g id="e6" class="node c"><rect x="1299" y="1276" width="188" height="40"/><text x="1393" y="1293.4">ilPDSelectedItemsBlockGUI</text><text x="1393" y="1308.1">\getViewBlockHtml</text></g>
<g id="f1" class="node c"><rect x="1543" y="630" width="227" height="26"/><text x="1656.5" y="647.8">ilInfoScreenGUI\executeCommand</text></g>
<g id="f2" class="node c"><rect x="1575" y="806" width="163" height="40"/><text x="1656.5" y="823.4">ilContainerObjectiveGUI</text><text x="1656.5" y="838.1">\showObjectives</text></g>
<g id="f3" class="node c"><rect x="1575" y="871" width="163" height="40"/><text x="1656.5" y="888.4">ilContainerObjectiveGUI</text><text x="1656.5" y="903.1">\showMaterials</text></g>
<g id="f4" class="node c"><rect x="1571" y="1011" width="171" height="40"/><text x="1656.5" y="1028.4">ilContainerSimpleContent</text><text x="1656.5" y="1043.1">GUI\__showMaterials</text></g>
<g id="f5" class="node c"><rect x="1565" y="1077" width="184" height="40"/><text x="1657" y="1094.4">ilContainerSessionsContent</text><text x="1657" y="1109.1">GUI\__showMaterials</text></g>
<g id="f6" class="node c"><rect x="1569" y="1142" width="175" height="40"/><text x="1656.5" y="1159.4">ilContainerByTypeContent</text><text x="1656.5" y="1174.1">GUI\renderItemList</text></g>
<g id="g1" class="node c"><rect x="1828" y="806" width="163" height="40"/><text x="1909.5" y="823.4">ilContainerObjectiveGUI</text><text x="1909.5" y="838.1">\getMainContent</text></g>
<g id="g2" class="node c"><rect x="1824" y="1011" width="171" height="40"/><text x="1909.5" y="1028.4">ilContainerSimpleContent</text><text x="1909.5" y="1043.1">GUI\getMainContent</text></g>
<g id="g3" class="node c"><rect x="1817" y="1077" width="184" height="40"/><text x="1909" y="1094.4">ilContainerSessionsContent</text><text x="1909" y="1109.1">GUI\getMainContent</text></g>
<g id="g4" class="node c"><rect x="1822" y="1142" width="175" height="40"/><text x="1909.5" y="1159.4">ilContainerByTypeContent</text><text x="1909.5" y="1174.1">GUI\getMainContent</text></g>
</svg>
